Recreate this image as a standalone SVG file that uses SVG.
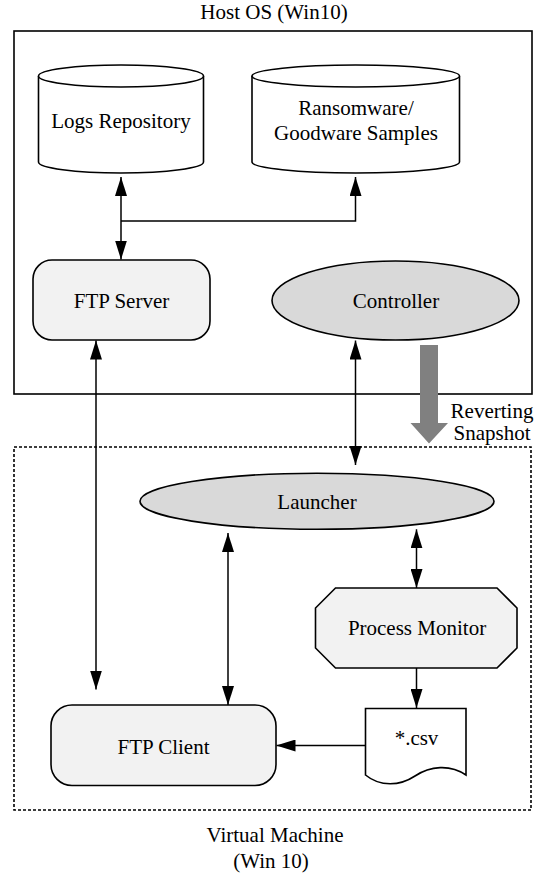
<svg xmlns="http://www.w3.org/2000/svg" width="546" height="877" viewBox="0 0 546 877">
<style>
text{font-family:"Liberation Serif","Times New Roman",serif;font-size:21px;fill:#000;text-anchor:middle}
.node{stroke:#000;stroke-width:1.6}
.light{fill:#f2f2f2}
.dark{fill:#d9d9d9}
.white{fill:#fff}
.conn{fill:none;stroke:#000;stroke-width:1.5}
.bi{marker-start:url(#ah);marker-end:url(#ah)}
.one{marker-end:url(#ah)}
</style>
<defs>
<marker id="ah" markerUnits="userSpaceOnUse" markerWidth="19" markerHeight="12" refX="19" refY="6" orient="auto-start-reverse" viewBox="0 0 19 12">
<path d="M0,0 L19,6 L0,12 Z" fill="#000"/>
</marker>
</defs>
<rect width="546" height="877" fill="#fff"/>

<g id="host-os">
<rect x="14" y="31" width="518" height="363" fill="none" stroke="#000" stroke-width="1.6"/>
<text x="274" y="19">Host OS (Win10)</text>
</g>

<g id="virtual-machine">
<rect x="14" y="447" width="517" height="363" fill="none" stroke="#000" stroke-width="1.6" stroke-dasharray="3,2"/>
<text x="275" y="842">Virtual Machine</text>
<text x="271" y="868">(Win 10)</text>
</g>

<g id="logs-repository">
<path class="node white" d="M38.5,76 V162 A82.5,11 0 0 0 203.5,162 V76"/>
<ellipse class="node white" cx="121" cy="76" rx="82.5" ry="11"/>
<text x="121" y="128">Logs Repository</text>
</g>

<g id="samples">
<path class="node white" d="M252,76 V162 A103.75,11 0 0 0 459.5,162 V76"/>
<ellipse class="node white" cx="355.75" cy="76" rx="103.75" ry="11"/>
<text x="356" y="115">Ransomware/</text>
<text x="356" y="140">Goodware Samples</text>
</g>

<g id="ftp-server">
<rect class="node light" x="33" y="260" width="177" height="80" rx="19" ry="19"/>
<text x="121.5" y="308">FTP Server</text>
</g>

<g id="controller">
<ellipse class="node dark" cx="395.5" cy="300.5" rx="123.5" ry="39.5"/>
<text x="396" y="308">Controller</text>
</g>

<g id="launcher">
<ellipse class="node dark" cx="317" cy="501.3" rx="177" ry="28"/>
<text x="317" y="509">Launcher</text>
</g>

<g id="process-monitor">
<polygon class="node light" points="335.5,588 497,588 517,608 517,648 497,668 335.5,668 315.5,648 315.5,608"/>
<text x="417" y="635">Process Monitor</text>
</g>

<g id="csv">
<path class="node white" d="M365.5,708.5 H466 V775 C450,764 430,766 415,776 C400,786 380,787 365.5,775 Z"/>
<text x="416.5" y="745">*.csv</text>
</g>

<g id="ftp-client">
<rect class="node light" x="51" y="705" width="225" height="80.5" rx="21" ry="21"/>
<text x="163.5" y="754">FTP Client</text>
</g>

<g id="reverting-snapshot">
<polygon points="420,345 438,345 438,423 448,423 429,443.5 410.5,423 420,423" fill="#808080"/>
<text x="492" y="418">Reverting</text>
<text x="492" y="440">Snapshot</text>
</g>

<g id="connectors">
<line class="conn bi" x1="121" y1="177" x2="121" y2="259.5"/>
<polyline class="conn one" points="121,221 355.5,221 355.5,177"/>
<line class="conn bi" x1="96" y1="340.5" x2="96" y2="689.5"/>
<line class="conn bi" x1="355.5" y1="340.5" x2="355.5" y2="465"/>
<line class="conn bi" x1="228" y1="533" x2="228" y2="705"/>
<line class="conn bi" x1="416.5" y1="529.3" x2="416.5" y2="588"/>
<line class="conn one" x1="416.5" y1="668" x2="416.5" y2="708"/>
<line class="conn one" x1="365.5" y1="745.5" x2="276.5" y2="745.5"/>
</g>
</svg>
